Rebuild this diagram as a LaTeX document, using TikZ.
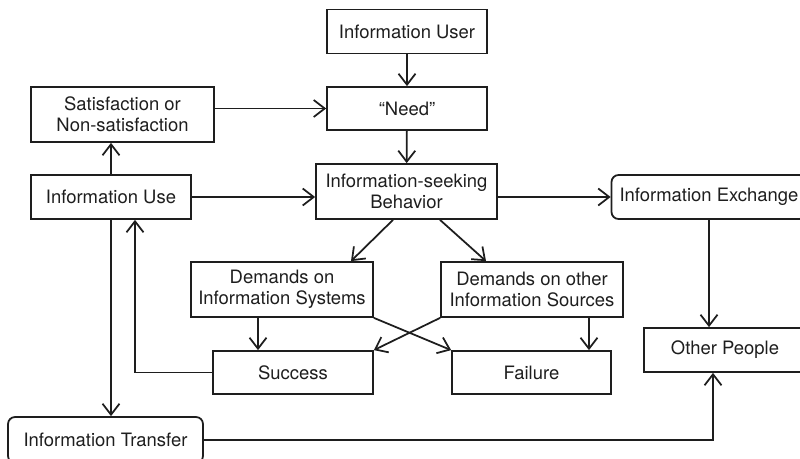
\documentclass[tikz,border=0pt]{standalone}
\usepackage{fontspec}
\setmainfont{TeX Gyre Heros}
\usepackage{tikz}
\usetikzlibrary{arrows.meta,positioning,calc}
\definecolor{ink}{HTML}{1E1E1E}

\begin{document}
\begin{tikzpicture}[x=0.02cm,y=-0.02cm,line width=1pt,draw=ink,text=ink,
    >={Straight Barb[length=2.2mm,width=3.4mm]},
    box/.style={draw=ink,rectangle,inner sep=1pt,align=center,font=\fontsize{10.5pt}{12pt}\selectfont,minimum width=3.2cm,minimum height=0.88cm},
    rbox/.style={box,rounded corners=4pt}]
    \useasboundingbox (0,0) rectangle (800,459);
    % boxes
    \node[box] (user) at (407,31.5) {Information User};
    \node[box,minimum height=0.86cm] (need) at (407,108.5) {“Need”};
    \node[box,minimum width=3.66cm,minimum height=1.1cm] (sat) at (122.5,114.5) {Satisfaction or\\Non-satisfaction};
    \node[box,minimum width=3.62cm,minimum height=1.1cm] (seek) at (406.5,191.5) {Information-seeking\\Behavior};
    \node[box] (use) at (111,197) {Information Use};
    \node[rbox,minimum width=3.9cm] (exch) at (709,197) {Information Exchange};
    \node[box,minimum width=3.64cm,minimum height=1.1cm] (demsys) at (282,289.5) {Demands on\\Information Systems};
    \node[box,minimum width=3.64cm,minimum height=1.1cm] (demsrc) at (532,289.5) {Demands on other\\Information Sources};
    \node[box,minimum height=0.86cm] (succ) at (293,372.5) {Success};
    \node[box,minimum width=3.18cm,minimum height=0.86cm] (fail) at (531.5,372.5) {Failure};
    \node[box,minimum width=3.24cm] (other) at (725,350) {Other People};
    \node[rbox,minimum width=3.9cm,minimum height=0.92cm] (trans) at (105.5,440) {Information Transfer};
    % connectors
    \draw[->] (user) -- (need);
    \draw[->] (need) -- (seek);
    \draw[->] (sat.east |- need.west) -- (need.west);
    \draw[->] (use.north) -- (sat.south -| use.north);
    \draw[->] (use.east) -- (use.east -| seek.west);
    \draw[->] (seek.east |- exch.west) -- (exch.west);
    \draw[->] ([xshift=-0.27cm]seek.south) -- ([xshift=1.38cm]demsys.north);
    \draw[->] ([xshift=0.67cm]seek.south) -- ([xshift=-0.92cm]demsrc.north);
    \draw[->] ([xshift=-0.48cm]demsys.south) -- ([xshift=-0.48cm]demsys.south |- succ.north);
    \draw[->] ([xshift=1.14cm]demsrc.south) -- ([xshift=1.14cm]demsrc.south |- fail.north);
    \draw[->] (demsys.south east) -- (fail.north west);
    \draw[->] (demsrc.south west) -- (succ.north east);
    \draw[->] (succ.west) -| ([xshift=0.48cm]use.south);
    \draw[->] (use.south) -- (use.south |- trans.north);
    \draw[->] (exch.south) -- (exch.south |- other.north);
    \draw[->] (trans.east) -| ([xshift=-0.24cm]other.south);
\end{tikzpicture}
\end{document}
